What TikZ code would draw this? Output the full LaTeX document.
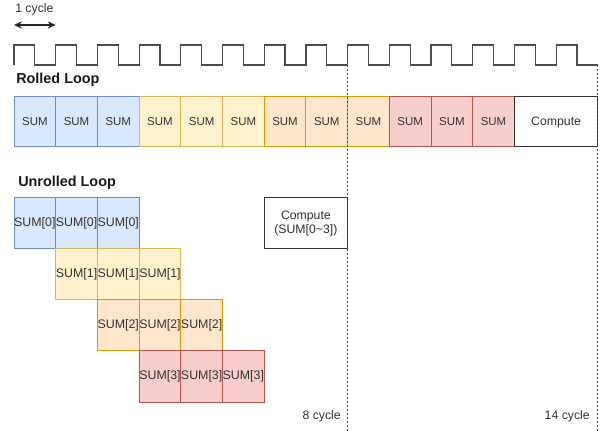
\documentclass[tikz,border=0pt]{standalone}
\usepackage{fontspec}
\setmainfont{Liberation Sans}
\usetikzlibrary{arrows.meta}

\definecolor{fill0}{HTML}{DAE8FC}
\definecolor{line0}{HTML}{6C8EBF}
\definecolor{fill1}{HTML}{FFF2CC}
\definecolor{line1}{HTML}{D6B656}
\definecolor{fill2}{HTML}{FFE6CC}
\definecolor{line2}{HTML}{D79B00}
\definecolor{fill3}{HTML}{F8CECC}
\definecolor{line3}{HTML}{B85450}
\definecolor{textgray}{HTML}{333333}

\begin{document}
\begin{tikzpicture}[
  x=0.75pt, y=-0.75pt,
  cell/.style={draw, line width=0.75pt, minimum width=31.275pt, minimum height=37.5pt, inner sep=0pt, text=textgray, font=\fontsize{8.6}{10.3}\selectfont},
  ucell/.style={cell, minimum height=38.25pt, font=\fontsize{9.3}{11.2}\selectfont},
  compbox/.style={draw=black!80, fill=white, line width=0.75pt, minimum width=62.55pt, inner sep=0pt, align=center, text=textgray, font=\fontsize{9.2}{11}\selectfont},
  note/.style={inner sep=0pt, text=textgray, font=\fontsize{9.2}{11}\selectfont},
  heading/.style={inner sep=0pt, anchor=west, text=black!90, font=\bfseries\fontsize{10.8}{13}\selectfont},
  clock/.style={line width=0.9pt, black!70},
  guide/.style={line width=0.75pt, black!70, dash pattern=on 1.5pt off 1.5pt},
  span/.style={{Stealth[length=6pt,width=5.5pt]}-{Stealth[length=6pt,width=5.5pt]}, line width=0.9pt, black!85}
]
\useasboundingbox (0,0) rectangle (604,431);

% clock and cycle width
\node[note, anchor=west] (onecycle) at (15,9) {1 cycle};
\coordinate (spanL) at (14,25);
\coordinate (spanR) at (55.7,25);
\draw[span] (spanL) -- (spanR);
\draw[clock] (14,65) \foreach \n in {0,...,13} { -- ++(0,-20) -- ++(20.85,0) -- ++(0,20) -- ++(20.85,0) };

% rolled loop
\node[heading] (rolled) at (16,80) {Rolled Loop};
\foreach \i in {0,...,11} {
  \pgfmathtruncatemacro\g{\i/3}
  \node[cell, fill=fill\g, draw=line\g] (roll\i) at ({14+(\i+0.5)*41.7},122) {SUM};
}
\node[compbox, minimum height=37.5pt] (rollcomp) at (556.1,122) {Compute};

% unrolled loop
\node[heading] (unrolled) at (18,183) {Unrolled Loop};
\foreach \r in {0,...,3} {
  \foreach \k in {0,1,2} {
    \node[ucell, fill=fill\r, draw=line\r] (sum\r\k) at ({14+(\r+\k+0.5)*41.7},{223.5+51*\r}) {SUM[\r]};
  }
}
\node[compbox, minimum height=38.25pt] (unrollcomp) at (305.9,223.5) {Compute\\(SUM[0\textasciitilde3])};

% cycle marks
\coordinate (mark8top) at (347.6,65);
\coordinate (mark8bot) at (347.6,431);
\coordinate (mark14top) at (597.8,65);
\coordinate (mark14bot) at (597.8,431);
\draw[guide] (mark8top) -- (mark8bot);
\draw[guide] (mark14top) -- (mark14bot);
\node[note, anchor=east] (eightcyc) at (341,416) {8 cycle};
\node[note, anchor=east] (fourteencyc) at (590,416) {14 cycle};

\end{tikzpicture}
\end{document}
